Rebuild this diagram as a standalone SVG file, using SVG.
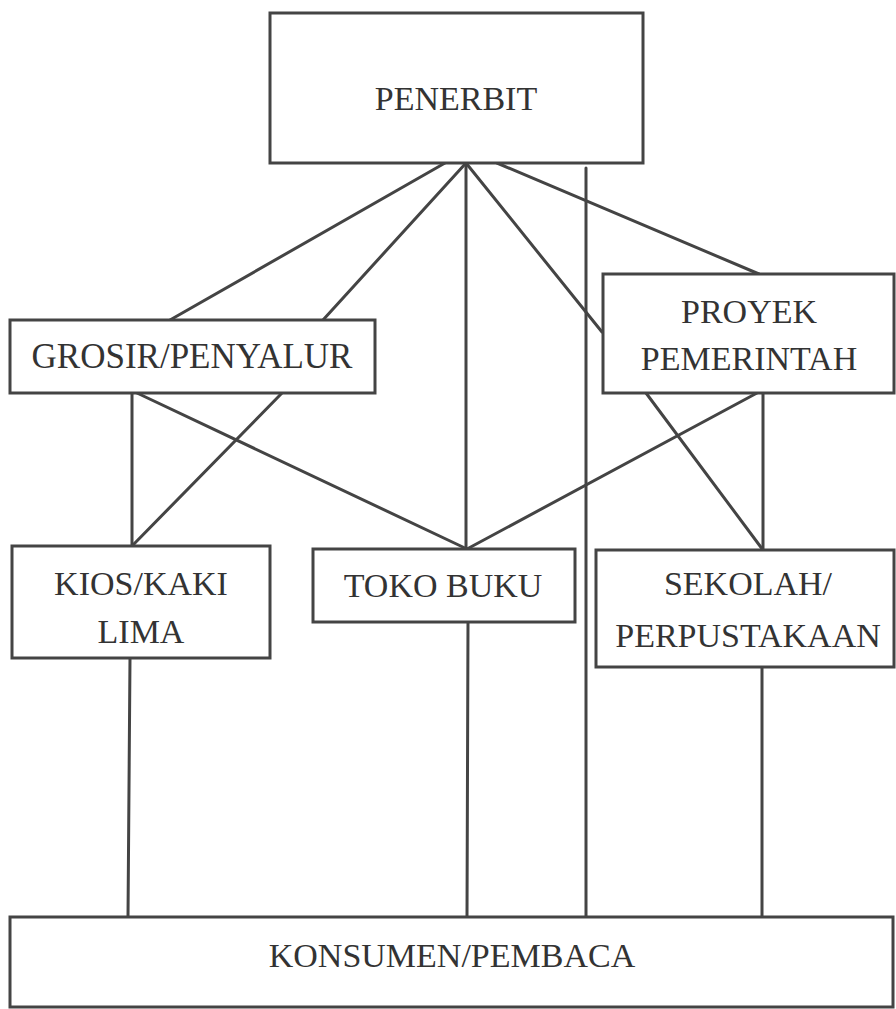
<svg xmlns="http://www.w3.org/2000/svg" width="896" height="1009" viewBox="0 0 896 1009">
<style>
.box{fill:#fff;stroke:#444;stroke-width:3}
.t{font-family:"Liberation Serif","Times New Roman",serif;font-size:34px;fill:#333;text-anchor:middle}
.c line{stroke:#444;stroke-width:3;stroke-linecap:round}
</style>
<rect x="0" y="0" width="896" height="1009" fill="#fff"/>
<g class="c" id="connectors">
<line x1="445" y1="163" x2="170" y2="320"/>
<line x1="466" y1="163" x2="323" y2="320"/>
<line x1="466" y1="163" x2="466" y2="549"/>
<line x1="466" y1="163" x2="602" y2="332"/>
<line x1="497" y1="163" x2="759" y2="274"/>
<line x1="586" y1="168" x2="586" y2="917"/>
<line x1="132" y1="393" x2="132" y2="546"/>
<line x1="282" y1="393" x2="132" y2="546"/>
<line x1="137" y1="393" x2="467" y2="549"/>
<line x1="757" y1="393" x2="467" y2="549"/>
<line x1="646" y1="393" x2="763" y2="550"/>
<line x1="763" y1="393" x2="763" y2="550"/>
<line x1="130" y1="658" x2="128" y2="917"/>
<line x1="468" y1="622" x2="467" y2="917"/>
<line x1="762" y1="667" x2="762" y2="917"/>
</g>
<g id="penerbit">
<rect class="box" x="270" y="13" width="373" height="150"/>
<text class="t" x="456" y="110">PENERBIT</text>
</g>
<g id="grosir">
<rect class="box" x="10" y="320" width="365" height="73"/>
<text class="t" x="192" y="368" style="font-size:35px">GROSIR/PENYALUR</text>
</g>
<g id="proyek">
<rect class="box" x="603" y="274" width="291" height="119"/>
<text class="t" x="749" y="323">PROYEK</text>
<text class="t" x="749" y="370">PEMERINTAH</text>
</g>
<g id="kios">
<rect class="box" x="12" y="546" width="258" height="112"/>
<text class="t" x="141" y="595">KIOS/KAKI</text>
<text class="t" x="141" y="643">LIMA</text>
</g>
<g id="toko">
<rect class="box" x="313" y="549" width="262" height="73"/>
<text class="t" x="443" y="597">TOKO BUKU</text>
</g>
<g id="sekolah">
<rect class="box" x="596" y="550" width="298" height="117"/>
<text class="t" x="748" y="595">SEKOLAH/</text>
<text class="t" x="748" y="647">PERPUSTAKAAN</text>
</g>
<g id="konsumen">
<rect class="box" x="10" y="917" width="883" height="90"/>
<text class="t" x="452" y="967">KONSUMEN/PEMBACA</text>
</g>
</svg>
